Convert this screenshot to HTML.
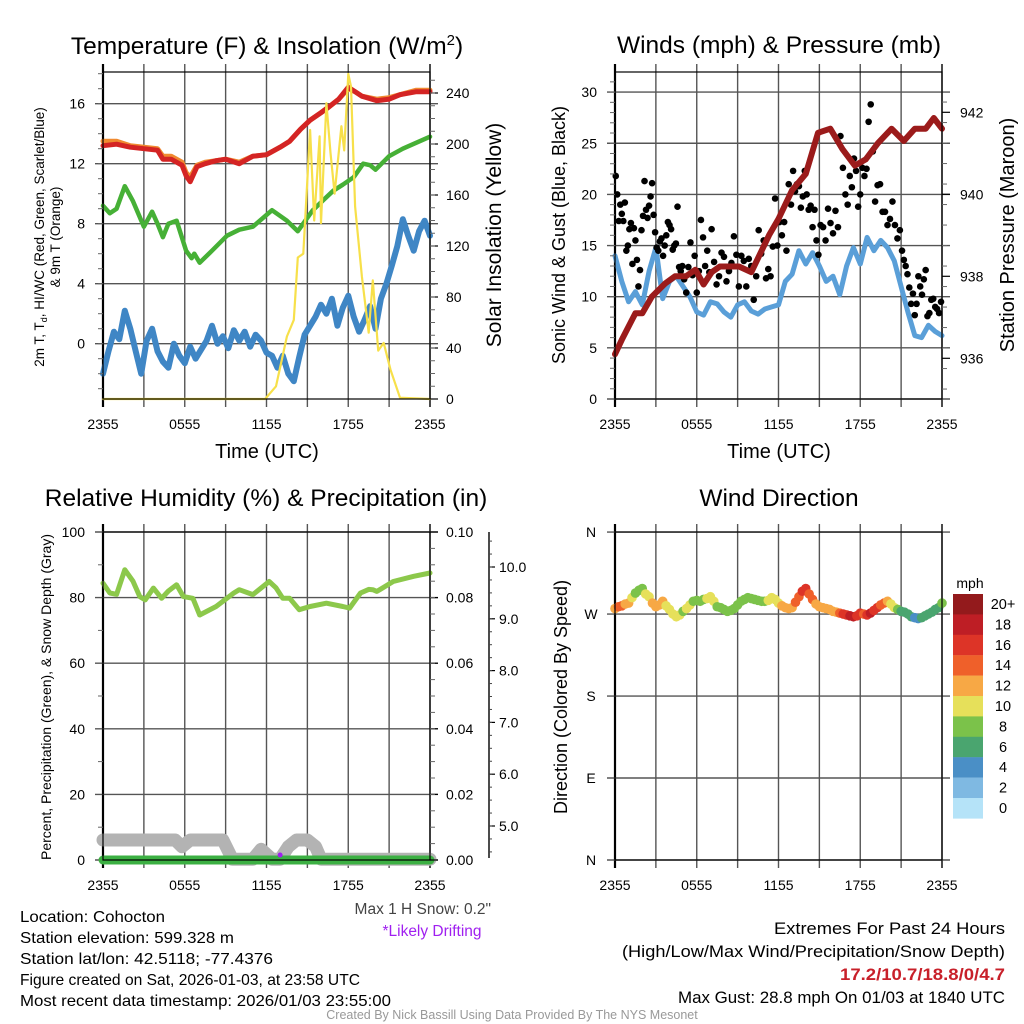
<!DOCTYPE html>
<html><head><meta charset="utf-8"><style>
html,body{margin:0;padding:0;background:#fff;}
svg{display:block;font-family:"Liberation Sans",sans-serif;}
</style></head><body>
<svg id="root" width="1024" height="1024" viewBox="0 0 1024 1024" xmlns="http://www.w3.org/2000/svg">
<rect x="0" y="0" width="1024" height="1024" fill="#fff"/>
<g id="layer-grid"></g>
<g id="layer-data"></g>
<g id="layer-axes"></g>
<g id="layer-text" fill="#000">
<text x="267" y="54" font-size="24.5" text-anchor="middle">Temperature (F) &amp; Insolation (W/m<tspan font-size="15" dy="-9">2</tspan><tspan dy="9">)</tspan></text>
<text x="779" y="53" font-size="24.5" text-anchor="middle">Winds (mph) &amp; Pressure (mb)</text>
<text x="266" y="506" font-size="24.5" text-anchor="middle">Relative Humidity (%) &amp; Precipitation (in)</text>
<text x="779" y="506" font-size="24.5" text-anchor="middle">Wind Direction</text>
<text transform="translate(44,237) rotate(-90)" font-size="13.5" text-anchor="middle">2m T, T<tspan font-size="9" dy="3">d</tspan><tspan dy="-3">, HI/WC (Red, Green, Scarlet/Blue)</tspan></text>
<text transform="translate(60,237) rotate(-90)" font-size="13.5" text-anchor="middle">&amp; 9m T (Orange)</text>
<text transform="translate(501,235) rotate(-90)" font-size="21" text-anchor="middle">Solar Insolation (Yellow)</text>
<text transform="translate(565,235) rotate(-90)" font-size="18" text-anchor="middle">Sonic Wind &amp; Gust (Blue, Black)</text>
<text transform="translate(1014,235) rotate(-90)" font-size="20" text-anchor="middle">Station Pressure (Maroon)</text>
<text transform="translate(51,697) rotate(-90)" font-size="14" text-anchor="middle">Percent, Precipitation (Green), &amp; Snow Depth (Gray)</text>
<text transform="translate(567,697) rotate(-90)" font-size="18" text-anchor="middle">Direction (Colored By Speed)</text>
<text x="267" y="458" font-size="20" text-anchor="middle">Time (UTC)</text>
<text x="779" y="458" font-size="20" text-anchor="middle">Time (UTC)</text>
<text x="970" y="588" font-size="14" text-anchor="middle">mph</text>
<text x="491" y="914" font-size="15.5" text-anchor="end" fill="#444">Max 1 H Snow: 0.2"</text>
<text x="432" y="936" font-size="15.5" text-anchor="middle" fill="#a020f0">*Likely Drifting</text>
<g font-size="16">
<text x="20" y="922" textLength="145" lengthAdjust="spacingAndGlyphs">Location: Cohocton</text>
<text x="20" y="943" textLength="214" lengthAdjust="spacingAndGlyphs">Station elevation: 599.328 m</text>
<text x="20" y="964" textLength="253" lengthAdjust="spacingAndGlyphs">Station lat/lon: 42.5118; -77.4376</text>
<text x="20" y="985" textLength="340" lengthAdjust="spacingAndGlyphs">Figure created on Sat, 2026-01-03, at 23:58 UTC</text>
<text x="20" y="1006" textLength="371" lengthAdjust="spacingAndGlyphs">Most recent data timestamp: 2026/01/03 23:55:00</text>
</g>
<g font-size="17" text-anchor="end">
<text x="1005" y="934" textLength="231" lengthAdjust="spacingAndGlyphs">Extremes For Past 24 Hours</text>
<text x="1005" y="957" textLength="383" lengthAdjust="spacingAndGlyphs">(High/Low/Max Wind/Precipitation/Snow Depth)</text>
<text x="1005" y="980" fill="#c8202a" font-weight="bold" textLength="165" lengthAdjust="spacingAndGlyphs">17.2/10.7/18.8/0/4.7</text>
<text x="1005" y="1003" textLength="327" lengthAdjust="spacingAndGlyphs">Max Gust: 28.8 mph On 01/03 at 1840 UTC</text>
</g>
<text x="512" y="1019" font-size="12.5" text-anchor="middle" fill="#999">Created By Nick Bassill Using Data Provided By The NYS Mesonet</text>
</g>
</svg>
<script>
// ---------- DATA ----------
const timeTicks = ["2355","0555","1155","1755","2355"];
const tempTicks = [0,4,8,12,16];
const solarTicks = [0,40,80,120,160,200,240];
const windTicks = [0,5,10,15,20,25,30];
const presTicks = [936,938,940,942];
const rhTicks = [0,20,40,60,80,100];
const precipTicks = ["0.00","0.02","0.04","0.06","0.08","0.10"];
const snowTicks = ["5.0","6.0","7.0","8.0","9.0","10.0"];
const dirTicks = ["N","E","S","W","N"];
const speedBins = ["0","2","4","6","8","10","12","14","16","18","20+"];
const speedColors = ["#b5e3f8","#7fb9e2","#4a8fc6","#4aa56f","#7bc24a","#e6e05a","#f7a845","#ef602a","#dd3427","#be1e25","#931a1c"];

const tempHours = [0,1,2,3,4,4.4,5,5.8,6.1,6.4,6.9,7.5,8.3,9,10,11,12,13,13.7,14.5,15.2,16,16.6,17.3,18,18.5,19,20.1,21,21.8,23,24];
const tempVals  = [13.2,13.3,13.1,13.0,12.9,12.3,12.3,11.9,11.2,10.8,11.8,12.0,12.2,12.3,12.0,12.5,12.6,13.1,13.5,14.3,14.9,15.4,15.8,16.3,17.1,16.8,16.5,16.2,16.3,16.6,16.8,16.8];
const t9Vals    = [13.5,13.5,13.2,13.1,13.0,12.5,12.5,12.1,11.4,11.1,11.9,12.1,12.2,12.3,12.1,12.5,12.6,13.1,13.5,14.3,14.9,15.4,15.8,16.3,17.0,16.8,16.5,16.3,16.4,16.6,16.9,16.9];
const dewHours = [0,0.5,1.0,1.6,2.2,3.0,3.6,4.0,4.4,4.8,5.4,6.1,6.5,6.7,7.1,8.0,9.1,10,11,12.4,13.5,14.3,15.4,16.2,16.9,17.6,18.4,19.1,19.6,20,21,22,23,24];
const dewVals  = [9.2,8.7,9.0,10.5,9.5,7.8,8.8,8.0,7.1,8.0,8.2,6.2,5.7,6.0,5.4,6.2,7.2,7.6,7.8,8.9,8.2,7.5,8.9,9.6,10.2,10.6,11.1,12.0,11.9,11.6,12.5,13.0,13.4,13.8];
const hiVals = [-2,-0.5,0.8,0.3,2.2,1.0,-0.5,-2.0,0.2,1.0,-0.5,-1.2,-1.6,0.0,-0.8,-1.3,-0.2,-1.0,-0.4,0.2,1.2,0.0,0.5,-0.3,0.9,0.2,0.8,-0.2,0.6,0.2,-0.6,-0.8,-1.6,-0.8,-2.0,-2.5,-0.9,0.6,1.2,1.8,2.6,2.0,3.0,1.2,2.4,3.2,1.8,0.8,1.6,2.5,1.0,3.0,4.0,5.2,6.5,8.3,7.2,6.2,7.5,8.2,7.2];
const solarHours = [0,11.9,12.7,13.5,14,14.3,14.7,15.2,15.5,15.9,16,16.4,16.7,17,17.5,17.7,18,18.2,18.5,19,19.5,19.8,20.2,20.6,21.1,21.8,24];
const solarVals  = [0,0,10,49,62,111,114,211,140,206,138,232,193,161,214,195,255,245,151,96,52,93,38,44,23,1,0];

const presHours = [0,0.5,1.5,2,2.7,3.7,4.4,5.2,5.9,6.5,7.1,7.7,9.1,10,11.3,12,13,14,14.9,15.8,16.7,17.6,18.4,19.3,20.3,21.2,22,22.8,23.4,24];
const presVals  = [936.1,936.45,937.1,937.1,937.5,937.83,938.0,938.0,938.16,937.8,938.1,938.24,938.24,938.1,939.0,939.4,940.1,940.5,941.5,941.6,941.1,940.7,940.85,941.25,941.6,941.3,941.6,941.6,941.86,941.6];
const sonicVals = [14,11.5,9.5,10.5,9.2,12.5,14.8,9.8,11.5,12,11,10,8.5,8.2,9.5,9.3,8.5,8.0,9.2,9.5,8.6,8.3,8.8,9,9.2,11.5,12.2,14.5,13.2,14.3,13,11.5,12,10.2,13,14.8,13.2,15.8,14.5,15.5,14.8,13.5,11,8.5,6.2,6.0,7.2,6.6,6.2];
const gustSegStart = [0,1,3,5,7,9,11,13,15,17,19,21,23];
const gustSegEnd   = [1,3,5,7,9,11,13,15,17,19,21,23,24];
const gustGroups = [
 [21.8,20,17.4,19,18.1,17.4,19.2,14.5,15],
 [16.6,17.2,13.2,16.7,15.5,13.6,11,12.6,16.5,17.9,21.3,18.5,17.7,18.9,19.8,21.1,18,16.3],
 [14.8,14.5,15.4,15.7,14,15,16,17.3,17,16.6,14.6,15,15.2,18.8,12.9,12.5,13],
 [11.7,10.4,12.9,15.3,12.1,14,10.4,12.5,17.5,15.8,13,14.5,12.4],
 [16.6,13.4,11.2,12,14.3,13.9,11.5,12.5,13.3,15.9,14.1],
 [11,14,13.5,11,13.7,13,9.7,12,16.5,14.2,15.5],
 [11.8,12.7,12,14.9,19.6,15,17.3,16,17.3,14.5,21,19],
 [22.3,20.3,21,20.8,18.7,19.8,22.3,20,18.5,18.9,16.8,18.5,15.5,14.1],
 [17,16.8,15.5,18.6,17.2,16.2,18.4,16.8,25.7,22.6,20],
 [19,21.8,20.7,23.5,22.3,18.8,20,22.6,21.8,22.5,27.1,28.8,24.2],
 [19.3,20.9,21,18.3,18.3,17,17.6,19.3,17,15.7,16.5],
 [14.5,13.6,13,12.2,10.9,9.3,10.3,8.2,9.3,12,11,10.2,11.7,12.6,8.1],
 [8.4,9.7,9.8,9,8.8,8.4,9.5]
];

const rhHours = [0,0.5,1.0,1.6,2.2,2.7,3.1,3.7,4.3,4.8,5.4,5.9,6.6,7.1,8.3,9.6,10,11,12.2,12.7,13.2,13.7,14.4,15.2,16.4,17.6,18.1,18.9,19.5,19.8,20.1,21.3,22.8,24];
const rhVals  = [84.4,81.4,81.0,88.5,85.0,80.3,79.3,82.9,79.8,82.0,83.9,80.3,79.8,74.7,77.3,81.4,82.4,80.9,84.9,83.0,79.8,79.8,76.3,77.3,78.3,77.3,76.8,81.4,82.5,82.4,81.9,84.9,86.5,87.5];
const snowHours = [0,5.3,5.8,6.4,8.8,9.5,11,11.6,12.4,13,13.6,14.2,15,15.6,16,24];
const snowVals  = [4.73,4.73,4.6,4.73,4.73,4.36,4.36,4.55,4.36,4.36,4.6,4.73,4.73,4.6,4.36,4.36];
const precipHours = [0,24];
const precipVals = [0,0];
const driftHour = 13.0;
const driftSnow = 4.44;

const dirVals = [276,278,279,281,282,288,293,296,298,292,289,282,278,280,284,279,275,270,267,269,273,276,280,284,285,284,286,287,289,284,278,277,275,273,274,276,280,284,286,288,287,286,285,284,284,285,288,286,282,279,277,276,277,283,289,295,298,292,286,281,278,277,276,275,273,272,271,270,269,268,267,268,271,270,269,271,274,277,280,282,284,281,277,275,273,272,270,267,266,265,266,268,270,272,275,277,282];
const dirSpeeds = [13,14,14,13,12,10,9,8,9,10,11,12,13,13,12,11,10,10,10,10,9,10,10,9,8,8,9,10,10,10,9,8,8,9,8,8,9,8,8,8,9,8,8,8,9,10,10,11,11,12,12,12,13,14,15,17,16,15,14,13,13,12,12,12,13,12,14,16,17,18,19,17,16,15,17,18,16,16,15,14,12,11,10,8,7,7,6,6,5,4.5,6,7,6,6,7,7,8];

// ---------- HELPERS ----------
const NS="http://www.w3.org/2000/svg";
const G={grid:document.getElementById('layer-grid'),data:document.getElementById('layer-data'),axes:document.getElementById('layer-axes')};
function mk(tag,attrs,parent){const e=document.createElementNS(NS,tag);for(const k in attrs)e.setAttribute(k,attrs[k]);(parent||G.axes).appendChild(e);return e;}
function txt(s,x,y,size,anchor,parent){const t=mk('text',{x:x,y:y,'font-size':size,'text-anchor':anchor||'middle'},parent||G.axes);t.textContent=s;return t;}
function poly(xs,ys,attrs,name){
  const p=mk('polyline',Object.assign({fill:'none','stroke-linejoin':'round','stroke-linecap':'round'},attrs),G.data);
  p.setAttribute('points',xs.map((x,i)=>x.toFixed(1)+','+ys[i].toFixed(1)).join(' '));
  
  
  return p;
}
function evenHours(n){const a=[];for(let i=0;i<n;i++)a.push(i*24/(n-1));return a;}

const P1={x0:103,x1:430,y0:72,y1:399};
const P2={x0:615,x1:942,y0:72,y1:399};
const P3={x0:103,x1:430,y0:532,y1:860};
const P4={x0:615,x1:942,y0:532,y1:860};
const xh=(P,h)=>P.x0+h/24*(P.x1-P.x0);
const yT=v=>343.7-15*v;
const yS=s=>399-1.275*s;
const yW=v=>399-10.23*v;
const yP=p=>358.3-(p-936)*41;
const yRH=r=>860-3.28*r;
const yPr=p=>860-p*3280;
const ySn=s=>826-(s-5)*51.8;
const yD=d=>860-d*0.911;

function frame(P,name,hLines){
  for(let i=0;i<=8;i++){const x=P.x0+i*(P.x1-P.x0)/8;
    mk('line',{x1:x,y1:P.y0-8,x2:x,y2:P.y1+8,stroke:(i==0||i==8)?'#000':'#555','stroke-width':(i==0)?2.2:1.4},G.grid);}
  hLines.forEach(y=>mk('line',{x1:P.x0-8,y1:y,x2:P.x1+8,y2:y,stroke:'#555','stroke-width':1.4},G.grid));
  const r=mk('rect',{x:P.x0,y:P.y0,width:P.x1-P.x0,height:P.y1-P.y0,fill:'none',stroke:'#000','stroke-width':1.2});
  
  
  timeTicks.forEach((t,i)=>{txt(t,P.x0+i*(P.x1-P.x0)/4,P.y1+30,14);});
}
function minorTicks(P,side,ys){ys.forEach(y=>{const x=side=='l'?P.x0:P.x1;mk('line',{x1:x,y1:y,x2:side=='l'?x-5:x+5,y2:y,stroke:'#666','stroke-width':1});});}

// ---------- PANEL 1 ----------
frame(P1,'temperature-plot-area',tempTicks.map(yT));
tempTicks.forEach(v=>txt(String(v),85,yT(v)+5,14,'end'));
solarTicks.forEach(s=>{txt(String(s),446,yS(s)+5,14,'start');mk('line',{x1:P1.x1,y1:yS(s),x2:P1.x1+8,y2:yS(s),stroke:'#000','stroke-width':1.2});});
{const m=[];for(let v=-3;v<=18;v++)m.push(yT(v));minorTicks(P1,'l',m.filter(y=>y>P1.y0&&y<P1.y1));const n=[];for(let s=10;s<=250;s+=10)n.push(yS(s));minorTicks(P1,'r',n.filter(y=>y>P1.y0));}
poly(tempHours.map(h=>xh(P1,h)),t9Vals.map(yT),{stroke:'#f08a30','stroke-width':5},'nine-meter-temp-line');
poly(tempHours.map(h=>xh(P1,h)),tempVals.map(yT),{stroke:'#d42424','stroke-width':5},'temperature-line');
poly(dewHours.map(h=>xh(P1,h)),dewVals.map(yT),{stroke:'#46b036','stroke-width':4.5},'dewpoint-line');
{const hh=evenHours(hiVals.length);poly(hh.map(h=>xh(P1,h)),hiVals.map(yT),{stroke:'#3f86c5','stroke-width':6},'wind-chill-line');}
poly(solarHours.map(h=>xh(P1,h)),solarVals.map(yS),{stroke:'#f7e04a','stroke-width':2.2},'solar-insolation-line');

// ---------- PANEL 2 ----------
frame(P2,'winds-plot-area',windTicks.map(yW));
windTicks.forEach(v=>txt(String(v),597,yW(v)+5,14,'end'));
presTicks.forEach(p=>{txt(String(p),960,yP(p)+5,14,'start');mk('line',{x1:P2.x1,y1:yP(p),x2:P2.x1+8,y2:yP(p),stroke:'#000','stroke-width':1.2});});
{const m=[];for(let v=1;v<32;v++)m.push(yW(v));minorTicks(P2,'l',m.filter(y=>y>P2.y0));const n=[];for(let p=935.25;p<942.6;p+=0.5)n.push(yP(p));minorTicks(P2,'r',n.filter(y=>y>P2.y0&&y<P2.y1));}
{const hh=evenHours(sonicVals.length);poly(hh.map(h=>xh(P2,h)),sonicVals.map(yW),{stroke:'#5a9fd8','stroke-width':5},'sonic-wind-line');}
gustGroups.forEach((grp,gi)=>{
  const span=gustSegEnd[gi]-gustSegStart[gi];
  grp.forEach((v,j)=>{
    const h=gustSegStart[gi]+(j+0.5)/grp.length*span;
    const c=mk('circle',{cx:xh(P2,h),cy:yW(v),r:3.3,fill:'#000'},G.data);
    
    
  });
});
poly(presHours.map(h=>xh(P2,h)),presVals.map(yP),{stroke:'#9b1b1b','stroke-width':6},'pressure-line');

// ---------- PANEL 3 ----------
frame(P3,'humidity-plot-area',rhTicks.map(yRH));
rhTicks.forEach(v=>txt(String(v),85,yRH(v)+5,14,'end'));
precipTicks.forEach((p,i)=>{const y=yPr(i*0.02);txt(p,446,y+5,14,'start');mk('line',{x1:P3.x1,y1:y,x2:P3.x1+8,y2:y,stroke:'#000','stroke-width':1.2});});
{const m=[];for(let v=10;v<100;v+=20)m.push(yRH(v));minorTicks(P3,'l',m);const n=[];for(let p=0.005;p<0.1;p+=0.005)n.push(yPr(p));minorTicks(P3,'r',n);}
{const ax=mk('line',{x1:489,y1:532,x2:489,y2:858,stroke:'#000','stroke-width':1.4});
 
 
 snowTicks.forEach(s=>{const y=ySn(parseFloat(s));txt(s,499,y+5,14,'start');mk('line',{x1:489,y1:y,x2:495,y2:y,stroke:'#000','stroke-width':1.2});});
 for(let s=4.5;s<10.7;s+=0.25){const y=ySn(s);if(y>533&&y<858)mk('line',{x1:489,y1:y,x2:492,y2:y,stroke:'#444','stroke-width':1});}}
poly(snowHours.map(h=>xh(P3,h)),snowVals.map(ySn),{stroke:'#b3b3b3','stroke-width':13},'snow-depth-line');
poly(precipHours.map(h=>xh(P3,h)),precipVals.map(yPr),{stroke:'#3cb043','stroke-width':9},'precipitation-line');
poly(rhHours.map(h=>xh(P3,h)),rhVals.map(yRH),{stroke:'#8cc84b','stroke-width':5},'relative-humidity-line');
{const d=mk('circle',{cx:xh(P3,driftHour),cy:ySn(driftSnow),r:2.5,fill:'#a020f0'},G.data);
 
 }

// ---------- PANEL 4 ----------
frame(P4,'direction-plot-area',[0,90,180,270,360].map(yD));
dirTicks.forEach((t,i)=>txt(t,591,yD(i*90)+5,14,'middle'));
{const hh=evenHours(dirVals.length);
 dirVals.forEach((d,i)=>{
   const bin=Math.min(10,Math.floor(dirSpeeds[i]/2));
   const c=mk('circle',{cx:xh(P4,hh[i]),cy:yD(d),r:4.8,fill:speedColors[bin]},G.data);
   
   
 });}
speedBins.forEach((b,i)=>{
  const k=speedBins.length-1-i;
  const y=594+i*20.4;
  const r=mk('rect',{x:953,y:y,width:30,height:20.6,fill:speedColors[k]});
  
  
  txt(speedBins[k],1003,y+15,14.5,'middle');
});
</script>
</body></html>
